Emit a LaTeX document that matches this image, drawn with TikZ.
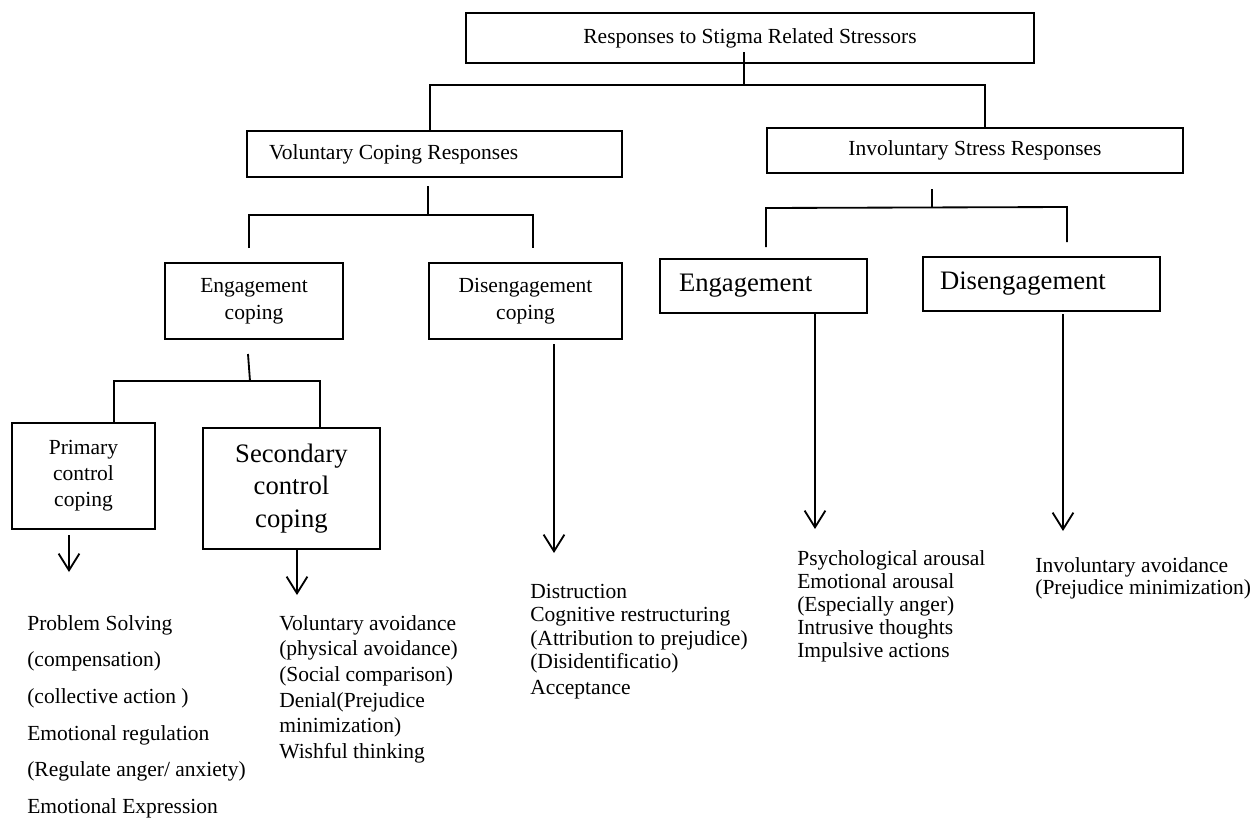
\documentclass[tikz,border=0pt]{standalone}
\usepackage{fontspec}
\setmainfont{Liberation Serif}
\usetikzlibrary{arrows.meta}
\begin{document}
\begin{tikzpicture}[x=0.6pt,y=-0.6pt,
  box/.style={draw,line width=1.3pt,inner sep=0pt,align=center,font=\fontsize{12.9}{16.2}\selectfont},
  big/.style={font=\fontsize{16}{19.5}\selectfont},
  conn/.style={line width=1.1pt},
  arr/.style={line width=1.1pt,-{Straight Barb[length=10pt,width=12.5pt,line width=1.1pt]}},
  lst/.style={anchor=north west,inner sep=0pt,align=flush left}]
\useasboundingbox (0,0) rectangle (1254,819);

% boxes
\node[box,minimum width=340.8pt,minimum height=30pt] (top) at (750,38) {Responses to Stigma Related Stressors};
\node[box,minimum height=27.6pt,text width=198.6pt,inner xsep=13.2pt,align=flush left] (vol) at (434.5,154) {Voluntary Coping Responses};
\node[box,minimum width=249.6pt,minimum height=27pt] (inv) at (975,150.5) {Involuntary Stress Responses};
\node[box,minimum width=106.8pt,minimum height=45.6pt] (engc) at (254,301) {Engagement\\coping};
\node[box,minimum width=115.8pt,minimum height=45.6pt] (disc) at (525.5,301) {Disengagement\\coping};
\node[box,big,minimum height=32.4pt,text width=101.4pt,inner xsep=11.4pt,align=flush left] (engi) at (763.5,286) {Engagement};
\node[box,big,minimum height=32.4pt,text width=121.8pt,inner xsep=10.2pt,align=flush left] (disi) at (1041.5,284) {Disengagement};
\node[box,minimum width=85.8pt,minimum height=63.6pt,font=\fontsize{12.9}{15.6}\selectfont] (prim) at (83.5,476) {Primary\\control\\coping};
\node[box,big,minimum width=106.2pt,minimum height=72.6pt] (sec) at (291.5,488.5) {Secondary\\control\\coping};

% top split
\coordinate (ts) at (744,52);
\coordinate (jt) at (744,85);
\coordinate (jl) at (430,85);
\coordinate (jr) at (985,85);
\draw[conn] (ts) -- (jt);
\draw[conn] (vol.north -| jl) -- (jl) -- (jr) -- (inv.north -| jr);

% voluntary split
\coordinate (vs) at (428,186);
\coordinate (vj) at (428,215);
\coordinate (vl) at (249,215);
\coordinate (vr) at (533,215);
\coordinate (vle) at (249,248);
\coordinate (vre) at (533,248);
\draw[conn] (vs) -- (vj);
\draw[conn] (vle) -- (vl) -- (vr) -- (vre);

% involuntary split
\coordinate (is) at (932,189);
\coordinate (ij) at (932,208);
\coordinate (il) at (766,208);
\coordinate (ir) at (1067,207);
\coordinate (ile) at (766,247);
\coordinate (ire) at (1067,242);
\draw[conn] (is) -- (ij);
\draw[conn] (ile) -- (il) -- (ir) -- (ire);

% engagement coping split
\coordinate (es) at (248,354);
\coordinate (ej) at (250,381);
\coordinate (el) at (114,381);
\coordinate (er) at (320,381);
\draw[conn] (es) -- (ej);
\draw[conn] (prim.north -| el) -- (el) -- (er) -- (sec.north -| er);

% arrows
\coordinate (pas) at (69,535);
\coordinate (pae) at (69,572);
\draw[arr] (pas) -- (pae);
\coordinate (sae) at (297,595);
\draw[arr] (sec.south -| sae) -- (sae);
\coordinate (das) at (554,344);
\coordinate (dae) at (554,553);
\draw[arr] (das) -- (dae);
\coordinate (eae) at (815,529);
\draw[arr] (engi.south -| eae) -- (eae);
\coordinate (ias) at (1063,314);
\coordinate (iae) at (1063,531);
\draw[arr] (ias) -- (iae);

% lists
\node[lst,font=\fontsize{12.9}{22}\selectfont] (l1) at (27,615) {Problem Solving\\(compensation)\\(collective action )\\Emotional regulation\\(Regulate anger/ anxiety)\\Emotional Expression};
\node[lst,font=\fontsize{12.9}{15.4}\selectfont] (l2) at (279,615) {Voluntary avoidance\\(physical avoidance)\\(Social comparison)\\Denial(Prejudice\\minimization)\\Wishful thinking};
\node[lst,font=\fontsize{12.9}{14}\selectfont] (l3) at (530,584) {Distruction\\Cognitive restructuring\\(Attribution to prejudice)\\(Disidentificatio)\\[1.5pt]Acceptance};
\node[lst,font=\fontsize{12.9}{13.8}\selectfont] (l4) at (797,550) {Psychological arousal\\Emotional arousal\\(Especially anger)\\Intrusive thoughts\\Impulsive actions};
\node[lst,font=\fontsize{12.9}{13.2}\selectfont] (l5) at (1035,557) {Involuntary avoidance\\(Prejudice minimization)};
\end{tikzpicture}
\end{document}
